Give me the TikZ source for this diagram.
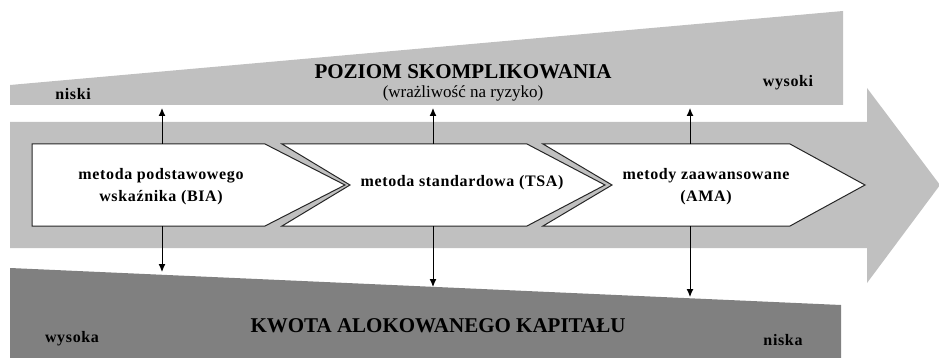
\documentclass[tikz,border=0pt]{standalone}
\usepackage{color}
\usepackage{fontspec}
\setmainfont{Liberation Serif}
\newfontfamily\spacedserif[LetterSpace=4]{Liberation Serif}
\usepackage{tikz}
\usetikzlibrary{arrows}
\usetikzlibrary{arrows.meta}
\definecolor{bandgray}{RGB}{192,192,192}
\definecolor{capitalgray}{RGB}{128,128,128}

\begin{document}
\begin{tikzpicture}[x=1pt, y=-1pt, >={Latex[length=8pt,width=7pt]}, line width=1pt,
        lbl/.style={font=\spacedserif\bfseries\fontsize{16}{21}\selectfont, anchor=base, inner sep=0pt, align=center},
        headline/.style={font=\bfseries\fontsize{21}{25}\selectfont, anchor=base, inner sep=0pt},
        method/.style={draw=black!85, fill=white}]
        \useasboundingbox (0,0) rectangle (939,358);

        % Bands
        \fill[bandgray] (10,85) -- (843,11) -- (843,105) -- (10,105) -- cycle;
        \fill[bandgray] (10,122) -- (867,122) -- (867,88) -- (940,185) -- (867,283) -- (867,248) -- (10,248) -- cycle;
        \fill[capitalgray] (10,268) -- (841,305) -- (841,358) -- (10,358) -- cycle;

        % Methods
        \draw[method] (32,144) -- (265,144) -- (345,185) -- (265,226) -- (32,226) -- cycle;
        \draw[method] (282,144) -- (527,144) -- (605,185) -- (527,226) -- (282,226) -- (350,185) -- cycle;
        \draw[method] (543,144) -- (790,144) -- (865,185) -- (790,226) -- (543,226) -- (612,185) -- cycle;

        % Nodes for labels
        \node[lbl] (bia) at (161,201) {metoda podstawowego\\wskaźnika (BIA)};
        \node[lbl] (tsa) at (462,186) {metoda standardowa (TSA)};
        \node[lbl] (ama) at (706,201) {metody zaawansowane\\(AMA)};
        \node[headline] (poziom) at (463,79) {POZIOM SKOMPLIKOWANIA};
        \node[font=\fontsize{17}{20}\selectfont, anchor=base, inner sep=0pt] (wrazl) at (463,98) {(wrażliwość na ryzyko)};
        \node[lbl] (niski) at (73,100) {niski};
        \node[lbl] (wysoki) at (788,87) {wysoki};
        \node[headline] (kwota) at (438,332) {KWOTA ALOKOWANEGO KAPITAŁU};
        \node[lbl] (wysoka) at (72,342) {wysoka};
        \node[lbl] (niska) at (783,345) {niska};

        % Arrow ends
        \coordinate (biaTop) at (162,144);
        \coordinate (biaUp) at (162,108);
        \coordinate (biaBot) at (162,226);
        \coordinate (biaDown) at (162,272);
        \coordinate (tsaTop) at (433,144);
        \coordinate (tsaUp) at (433,108);
        \coordinate (tsaBot) at (433,226);
        \coordinate (tsaDown) at (433,287);
        \coordinate (amaTop) at (690,144);
        \coordinate (amaUp) at (690,108);
        \coordinate (amaBot) at (690,226);
        \coordinate (amaDown) at (690,297);

        % Arrows
        \draw[->] (biaTop) -- (biaUp);
        \draw[->] (tsaTop) -- (tsaUp);
        \draw[->] (amaTop) -- (amaUp);
        \draw[->] (biaBot) -- (biaDown);
        \draw[->] (tsaBot) -- (tsaDown);
        \draw[->] (amaBot) -- (amaDown);
    \end{tikzpicture}
\end{document}
